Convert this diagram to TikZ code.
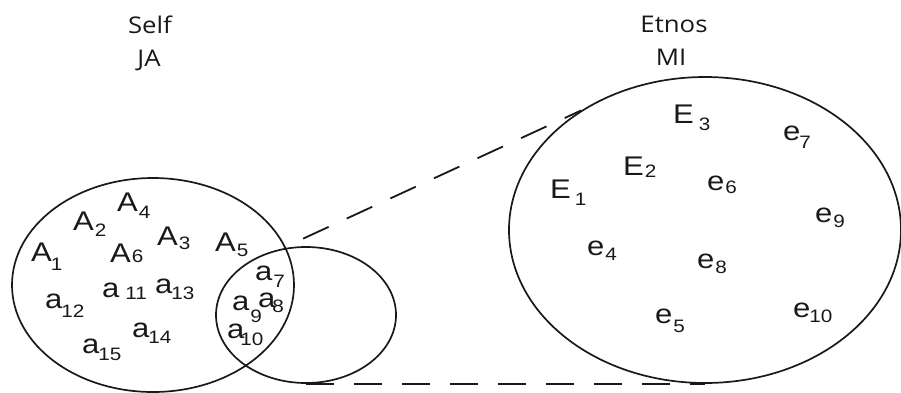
\documentclass[tikz,border=0pt]{standalone}
\usepackage{fontspec}
\setmainfont{Liberation Sans}[FakeStretch=1.15]
\newfontfamily\headfont{Open Sans}[FakeStretch=1.12]
\usetikzlibrary{shapes.geometric}
\newcommand\subs[3][1pt]{\hspace{#1}\raisebox{#2pt}{\fontsize{18}{18}\selectfont #3}}
\begin{document}
\begin{tikzpicture}[x=1pt,y=-1pt,
  ring/.style={draw=black!90, line width=1.7pt, ellipse, inner sep=0pt},
  lt/.style={anchor=base west, inner sep=0pt, font=\fontsize{27}{27}\selectfont, text=black!90},
  head/.style={anchor=base, inner sep=0pt, font=\headfont\fontsize{23}{23}\selectfont, text=black!90},
  link/.style={draw=black!90, line width=1.8pt, dash pattern=on 28pt off 20pt}]
\useasboundingbox (0,0) rectangle (901,392);
% headings
\node[head] (self) at (150,33) {Self};
\node[head] (ja) at (149,66) {JA};
\node[head] (etnos) at (674,32) {Etnos};
\node[head] (mi) at (671,65) {MI};
% circles
\node[ring, minimum width=282pt, minimum height=214pt] (selfset) at (153,285) {};
\node[ring, minimum width=180pt, minimum height=136pt] (meet) at (306,315) {};
\node[ring, minimum width=392pt, minimum height=306pt] (etnosset) at (705,230) {};
\coordinate (cross) at (285,247);
% connectors
\draw[link, shorten <=20pt] (cross) -- (etnosset.136);
\draw[link] (meet.south) -- (etnosset.south);
% left labels
\node[lt] (A4) at (117,211) {A\subs{-7}{4}};
\node[lt] (A2) at (73,230) {A\subs{-6}{2}};
\node[lt] (A3) at (157,245) {A\subs{-4}{3}};
\node[lt] (A5) at (215,251) {A\subs{-5}{5}};
\node[lt] (A1) at (31,261) {A\subs[-1pt]{-9}{1}};
\node[lt] (A6) at (110,262) {A\subs{0}{6}};
\node[lt] (a11) at (102,297) {a\subs[6pt]{-2}{11}};
\node[lt] (a13) at (155,293) {a\subs[-1pt]{-6}{13}};
\node[lt] (a12) at (45,308) {a\subs[-1pt]{-9}{12}};
\node[lt] (a14) at (132,337) {a\subs[-1pt]{-6}{14}};
\node[lt] (a15) at (82,353) {a\subs[-1pt]{-7}{15}};
\node[lt] (a7) at (255,280) {a\subs{-7}{7}};
\node[lt] (a8) at (258,307) {a\subs[-3pt]{-5}{8}};
\node[lt] (a9) at (232,310) {a\subs{-12}{9}};
\node[lt] (a10) at (227,338) {a\subs[-4pt]{-7}{10}};
% right labels
\node[lt] (E3) at (673,123) {E\subs[5pt]{-7}{3}};
\node[lt] (E2) at (623,175) {E\subs[1pt]{-2}{2}};
\node[lt] (E1) at (550,198) {E\subs[4pt]{-7}{1}};
\node[lt] (e7) at (783,140) {e\subs[-1pt]{-8}{7}};
\node[lt] (e6) at (707,190) {e\subs{-3}{6}};
\node[lt] (e9) at (815,222) {e\subs{-5}{9}};
\node[lt] (e4) at (587,255) {e\subs{-5}{4}};
\node[lt] (e8) at (697,268) {e\subs{-5}{8}};
\node[lt] (e5) at (655,323) {e\subs{-9}{5}};
\node[lt] (e10) at (793,317) {e\subs[-1pt]{-5}{10}};
\end{tikzpicture}
\end{document}
